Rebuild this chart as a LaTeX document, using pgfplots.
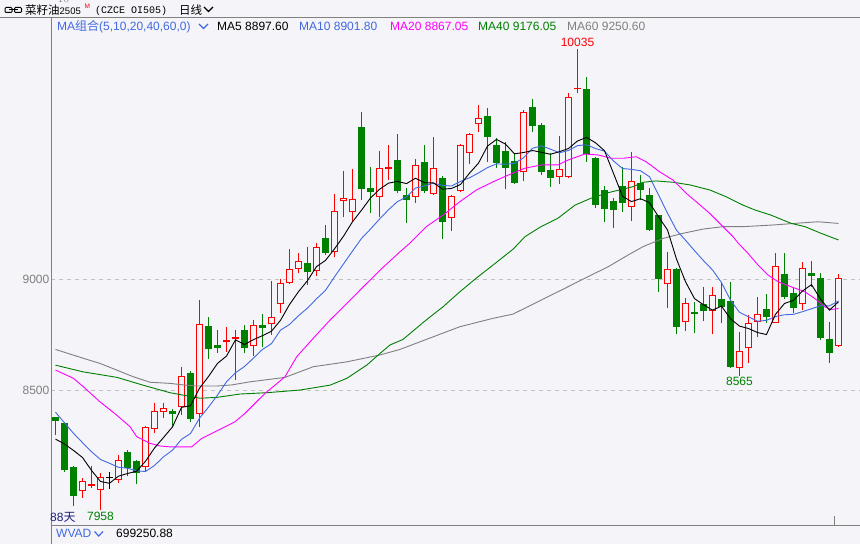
\documentclass[border=0pt]{standalone}
\usepackage{pgfplots}
\pgfplotsset{compat=1.18}
\usepackage{pgfplotstable}
\usepackage{fontspec}
\setmainfont{Liberation Sans}
\setmonofont{Liberation Mono}
\newfontfamily\cjk{Noto Sans CJK SC}
\definecolor{bg}{RGB}{244,244,249}
\definecolor{cred}{RGB}{255,0,0}
\definecolor{cgreen}{RGB}{0,128,0}
\definecolor{cblue}{RGB}{65,105,225}
\definecolor{cmag}{RGB}{255,0,255}
\definecolor{cgray}{RGB}{128,128,128}
\definecolor{cgrid}{RGB}{192,192,192}
\definecolor{cnavy}{RGB}{30,30,120}
\newcommand\fs{\fontsize{12}{14}\selectfont}

% candles: i open high low close
\pgfplotstableread{
i O H L C
4 8045 8105 8015 8089
5 8067 8158 8060 8076
6 8048 8125 7958 8108
8 8094 8207 8082 8183
11 8153 8337 8131 8332
12 8323 8443 8305 8405
13 8399 8443 8372 8417
15 8422 8605 8387 8563
17 8390 8905 8335 8796
20 8715 8782 8672 8724
21 8731 8770 8545 8737
23 8700 8815 8654 8791
25 8796 8990 8748 8827
26 8886 8999 8845 8981
27 8983 9135 8978 9044
28 9044 9116 9026 9080
30 9037 9161 9015 9143
32 9120 9383 9098 9305
33 9351 9488 9281 9364
34 9300 9496 9261 9360
37 9368 9578 9278 9499
38 9494 9604 9446 9503
41 9371 9541 9344 9512
43 9384 9638 9377 9499
45 9273 9378 9218 9373
46 9395 9608 9390 9604
47 9566 9659 9518 9653
48 9697 9784 9664 9724
53 9481 9761 9443 9751
57 9458 9644 9428 9494
58 9458 9839 9455 9819
59 9855 10035 9837 9862
65 9326 9573 9263 9441
69 8976 9123 8868 9045
71 8805 8916 8766 8891
74 8857 8965 8751 8928
77 8598 8763 8565 8676
78 8688 8838 8620 8800
79 8808 8918 8740 8841
81 8803 9116 8800 9059
84 8886 9077 8860 9048
88 8698 9023 8695 9003
}\upT

\pgfplotstableread{
i O H L C
1 8378 8380 8297 8362
2 8351 8356 8132 8141
3 8153 8156 7979 8024
9 8221 8230 8111 8150
10 8180 8185 8078 8125
14 8407 8415 8335 8393
16 8578 8585 8357 8369
18 8788 8830 8640 8683
19 8701 8770 8668 8691
22 8770 8793 8665 8691
24 8793 8842 8695 8781
29 9071 9146 8973 9033
31 9186 9243 9108 9118
35 9686 9754 9356 9405
36 9410 9506 9299 9393
39 9536 9652 9386 9398
40 9378 9409 9254 9357
42 9527 9604 9386 9398
44 9456 9464 9179 9258
49 9734 9769 9528 9641
50 9604 9634 9501 9524
51 9577 9619 9407 9499
52 9532 9566 9427 9434
54 9775 9810 9661 9689
55 9694 9701 9469 9482
56 9491 9566 9416 9456
60 9856 9911 9528 9563
61 9546 9550 9318 9333
62 9401 9420 9258 9315
63 9351 9364 9228 9311
64 9420 9506 9303 9344
66 9431 9468 9356 9401
67 9378 9409 9216 9221
68 9288 9290 8943 8999
70 9044 9050 8751 8785
72 8851 8898 8758 8841
73 8889 8965 8812 8857
75 8909 8981 8800 8875
76 8901 8985 8598 8605
80 8865 8932 8803 8830
82 9023 9116 8910 8920
83 8936 8965 8848 8871
85 9028 9081 8965 9014
86 9005 9026 8725 8736
87 8728 8805 8623 8668
}\downT

\pgfplotstableread{
i O H L C
7 8103 8132 8054 8107
}\dojiT

\pgfplotstableread{
i P
1 8279
2 8257
3 8228
4 8196
5 8138
6 8088
7 8080
8 8112
9 8124
10 8134
11 8179
12 8239
13 8286
14 8334
15 8422
16 8429
17 8508
18 8561
19 8620
20 8653
21 8726
22 8705
23 8727
24 8745
25 8765
26 8814
27 8885
28 8943
29 8993
30 9056
31 9084
32 9136
33 9193
34 9258
35 9310
36 9365
37 9404
38 9432
39 9440
40 9430
41 9454
42 9434
43 9433
44 9405
45 9408
46 9426
47 9477
48 9522
49 9599
50 9629
51 9608
52 9564
53 9570
54 9579
55 9571
56 9562
57 9574
58 9588
59 9622
60 9638
61 9614
62 9578
63 9476
64 9373
65 9349
66 9362
67 9344
68 9281
69 9221
70 9090
71 8988
72 8912
73 8884
74 8860
75 8878
76 8821
77 8788
78 8777
79 8759
80 8750
81 8841
82 8890
83 8904
84 8946
85 8975
86 8910
87 8860
88 8897.6
}\maV

\pgfplotstableread{
i P
1 8400
2 8352
3 8305
4 8263
5 8222
6 8187
7 8170
8 8152
9 8148
10 8136
11 8133
12 8160
13 8199
14 8229
15 8278
16 8304
17 8373
18 8423
19 8477
20 8537
21 8578
22 8606
23 8644
24 8683
25 8709
26 8770
27 8795
28 8835
29 8869
30 8911
31 8949
32 9010
33 9068
34 9126
35 9183
36 9225
37 9270
38 9312
39 9349
40 9370
41 9410
42 9419
43 9432
44 9422
45 9419
46 9440
47 9456
48 9478
49 9502
50 9519
51 9517
52 9521
53 9546
54 9589
55 9600
56 9585
57 9569
58 9579
59 9601
60 9605
61 9588
62 9576
63 9532
64 9498
65 9494
66 9488
67 9461
68 9379
69 9297
70 9220
71 9175
72 9128
73 9083
74 9041
75 8984
76 8905
77 8850
78 8830
79 8810
80 8814
81 8831
82 8839
83 8841
84 8853
85 8866
86 8880
87 8879
88 8901.8
}\maX

\pgfplotstableread{
i P
1 8590
2.98 8553
4.09 8515
5.94 8447
7.8 8387
9.28 8335
10.02 8290
11.5 8260
12.61 8248
13.72 8244
15.39 8244
16.13 8244
17.24 8282
19.47 8327
20.94 8357
22.06 8395
23.17 8440
24.28 8485
25.39 8522
26.5 8560
27.8 8650
29.64 8733
31.5 8815
33.36 8890
35.2 8965
37.06 9040
39.28 9123
40.36 9161
42.2 9236
44.06 9288
45.91 9348
47.76 9401
49.61 9438
51.28 9468
53.13 9499
54.98 9514
56.83 9514
57.94 9536
59.8 9563
61.28 9559
62.76 9544
64.06 9544
65.53 9551
66.64 9528
68.13 9483
69.61 9446
71.09 9386
72.2 9348
73.69 9296
75.17 9236
76.28 9191
76.83 9163
77.94 9116
79.06 9063
80.17 9018
81.28 8988
82.76 8965
84.24 8943
85.35 8913
86.47 8875
87.2 8863
88 8867.05
}\maXX

\pgfplotstableread{
i P
1 8612
4.06 8582
7.83 8557
10.72 8522
13.72 8488
17.06 8463
18.94 8467
21.5 8482
24.5 8488
28.17 8500
31.5 8522
33.39 8553
35.61 8613
37.06 8665
38.17 8703
39.61 8728
42.17 8815
44.06 8875
45.94 8943
47.72 9003
49.61 9063
51.83 9134
53.17 9191
54.94 9236
56.83 9274
58.72 9333
60.5 9364
62.39 9389
65.17 9416
66.28 9436
67.72 9442
69.61 9436
71.5 9424
73.72 9401
75.5 9371
77.39 9333
78.72 9311
80.5 9288
82.72 9251
84.28 9236
86.06 9206
88 9176.05
}\maXL

\pgfplotstableread{
i P
1 8683
4.09 8643
5.94 8620
7.8 8590
9.64 8560
11.5 8535
13.72 8530
15.2 8523
16.87 8518
18.91 8518
20.58 8523
22.61 8537
26.5 8557
29.64 8605
33.36 8627
37.06 8658
39.28 8683
42.2 8728
45.91 8785
49.61 8823
51.83 8842
57.39 8954
60.53 9018
62.39 9055
64.61 9108
66.28 9146
68.5 9183
70.72 9206
72.94 9225
75.17 9236
77.39 9236
80.53 9243
84.24 9254
85.72 9258
88 9250.6
}\maLX

\pgfplotsset{
  wick/.style={draw=none, mark=none, forget plot,
    error bars/.cd, y dir=plus, y explicit, error mark=none,
    error bar style={draw=#1, line width=1pt, solid}},
  body/.style 2 args={draw=none, mark=none, forget plot,
    error bars/.cd, y dir=plus, y explicit, error mark=none,
    error bar style={draw=#1, line width=#2, solid}},
}

\begin{document}
\begin{tikzpicture}
\useasboundingbox (0pt,0pt) rectangle (860pt,544pt);
\fill[bg] (0pt,0pt) rectangle (860pt,544pt);
\begin{axis}[
  at={(51pt,19pt)}, anchor=south west,
  width=809pt, height=507pt, scale only axis,
  xmin=0.5, xmax=90.39, ymin=7892, ymax=10176,
  axis line style={draw=none},
  xtick=\empty,
  ytick={8500,9000}, yticklabels={8500,9000},
  major tick length=0pt,
  ymajorgrids,
  grid style={cgrid, dash pattern=on 4pt off 4pt, line width=1pt},
  yticklabel style={text=cgray, font=\fs, inner sep=1.5pt},
]
% up candles (red hollow)
\addplot[wick=cred] table[x=i, y=L, y error expr=\thisrow{H}-\thisrow{L}] {\upT};
\addplot[body={cred}{7pt}] table[x=i, y=O, y error expr=\thisrow{C}-\thisrow{O}] {\upT};
\addplot[body={bg}{5pt}] table[x=i, y expr=\thisrow{O}+4.5, y error expr={max(\thisrow{C}-\thisrow{O}-9,0)}] {\upT};
% down candles (green filled)
\addplot[wick=cgreen] table[x=i, y=L, y error expr=\thisrow{H}-\thisrow{L}] {\downT};
\addplot[body={cgreen}{7pt}] table[x=i, y=C, y error expr=\thisrow{O}-\thisrow{C}] {\downT};
% doji
\addplot[wick=black] table[x=i, y=L, y error expr=\thisrow{H}-\thisrow{L}] {\dojiT};
\addplot[body={black}{7pt}] table[x=i, y=O, y error expr=\thisrow{C}-\thisrow{O}] {\dojiT};
% moving averages
\addplot[cgray, line width=0.9pt, mark=none] table[x=i, y=P] {\maLX};
\addplot[cgreen, line width=0.9pt, mark=none] table[x=i, y=P] {\maXL};
\addplot[cmag, line width=0.9pt, mark=none] table[x=i, y=P] {\maXX};
\addplot[cblue, line width=0.9pt, mark=none] table[x=i, y=P] {\maX};
\addplot[black, line width=0.9pt, mark=none] table[x=i, y=P] {\maV};
% extreme labels
\node[cred, anchor=south, inner sep=1pt, yshift=1.5pt, font=\fs] at (axis cs:59,10035) {10035};
\node[cgreen, anchor=north, inner sep=1.5pt, font=\fs] at (axis cs:6,7958) {7958};
\node[cgreen, anchor=north, inner sep=1.5pt, font=\fs] at (axis cs:77,8565) {8565};
\end{axis}
\begin{scope}[x=1pt, y=1pt]
% frame lines
\draw[cgray, line width=1pt] (0,526) -- (860,526);
\draw[cgray, line width=1pt] (51,0) -- (51,526);
\draw[cgray, line width=1pt] (51,19) -- (860,19);
\draw[cgray, line width=1pt] (834.5,19) -- (834.5,28);
% header
\draw[black, line width=1pt, rounded corners=1pt] (5,531.5) rectangle (12,536.5);
\draw[black, line width=1pt, rounded corners=1pt] (14.5,531.5) rectangle (21.5,536.5);
\draw[black, line width=1pt] (9,534) -- (17.5,534);
\node[anchor=base west, inner sep=0pt] at (25,529) {{\cjk\fontsize{11.5}{12}\selectfont 菜籽油}{\fontsize{9.5}{11}\selectfont 2505}};
\node[anchor=base west, inner sep=0pt, text=cred] at (84.5,535.5) {\fontsize{6.5}{7}\selectfont M};
\node[anchor=base west, inner sep=0pt] at (95,530.5) {\ttfamily\fontsize{10}{11}\selectfont (CZCE OI505)};
\node[anchor=base west, inner sep=0pt] at (179,529.5) {\cjk\fontsize{11.5}{13}\selectfont 日线};
\draw[black, line width=1.2pt] (204,537) -- (208.5,532.5) -- (213,537);
% MA legend row
\node[anchor=base west, inner sep=0pt, text=cblue] at (57,513) {\fs MA{\cjk 组合}(5,10,20,40,60,0)};
\draw[cblue, line width=1.2pt] (199,520) -- (203.5,515.5) -- (208,520);
\node[anchor=base west, inner sep=0pt, text=black] at (217,513) {\fs MA5 8897.60};
\node[anchor=base west, inner sep=0pt, text=cblue] at (299,513) {\fs MA10 8901.80};
\node[anchor=base west, inner sep=0pt, text=cmag] at (390,513) {\fs MA20 8867.05};
\node[anchor=base west, inner sep=0pt, text=cgreen] at (478,513) {\fs MA40 9176.05};
\node[anchor=base west, inner sep=0pt, text=cgray] at (567,513) {\fs MA60 9250.60};
% bottom
\node[anchor=base west, inner sep=0pt, text=cnavy] at (50,23) {\fs 88{\cjk 天}};
\node[anchor=base west, inner sep=0pt, text=cblue] at (56,6.5) {\fs WVAD};
\draw[cblue, line width=1.2pt] (94.5,12.5) -- (98.75,8) -- (103,12.5);
\node[anchor=base west, inner sep=0pt, text=black] at (116,6.5) {\fs 699250.88};
\end{scope}
\end{tikzpicture}
\end{document}
